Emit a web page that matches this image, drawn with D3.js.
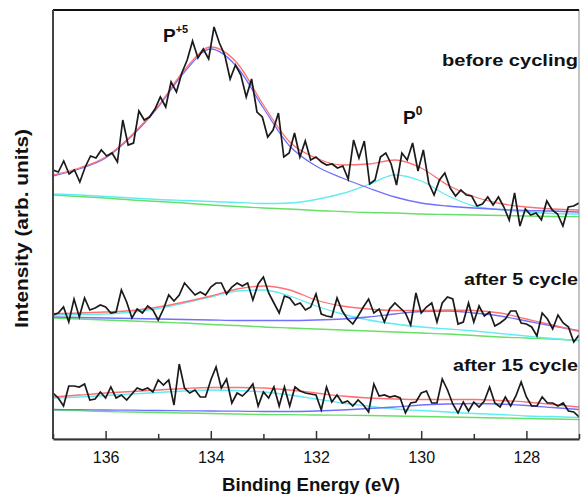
<!DOCTYPE html>
<html>
<head>
<meta charset="utf-8">
<script src="https://cdn.jsdelivr.net/npm/d3@7"></script>
<style>
  body { margin: 0; background: #fff; }
  text { font-family: "Liberation Sans", Arial, sans-serif; }
  .axisText { font-weight: bold; font-size: 18px; fill: #111; }
</style>
</head>
<body>
<div class="chart"></div>
<script>
var svgWidth = 581;
var svgHeight = 494;

var margin = { top: 10, right: 2, bottom: 55, left: 53 };

var width = svgWidth - margin.left - margin.right;
var height = svgHeight - margin.top - margin.bottom;

// x ticks (binding energy, eV)
var majorTicks = [136, 134, 132, 130, 128];
var minorTicks = [137, 135, 133, 131, 129, 127];

// raw spectra, 137 -> 127 eV (arb. units)
var beforeRaw = [269, 267, 278, 265, 269, 257, 272, 283, 281, 289, 283, 286, 277, 319, 294, 296, 328, 319, 322, 330,
  342, 332, 357, 347, 366, 379, 398, 381, 390, 380, 412, 396, 384, 360, 374, 364, 342, 360, 327, 322,
  302, 309, 326, 282, 286, 306, 282, 298, 279, 282, 277, 274, 275, 271, 273, 260, 299, 281, 298, 255,
  259, 282, 286, 275, 254, 286, 279, 296, 268, 289, 256, 244, 259, 266, 251, 243, 249, 244, 243, 233,
  235, 242, 234, 242, 232, 219, 246, 213, 230, 224, 226, 219, 238, 229, 225, 213, 232, 233, 236];

var after5Raw = [124, 126, 132, 117, 140, 122, 141, 129, 131, 134, 132, 126, 127, 149, 137, 121, 130, 126, 133, 129,
  119, 130, 144, 138, 144, 156, 150, 144, 147, 144, 152, 156, 156, 145, 152, 156, 153, 156, 139, 155,
  162, 146, 136, 126, 143, 141, 134, 136, 129, 132, 145, 125, 123, 122, 141, 128, 120, 115, 123, 132,
  140, 126, 130, 117, 130, 136, 131, 126, 114, 146, 126, 132, 136, 117, 136, 142, 140, 115, 117, 136,
  117, 133, 123, 127, 113, 116, 120, 128, 128, 116, 115, 112, 103, 126, 120, 110, 124, 116, 112, 97, 104];

var after15Raw = [46, 41, 33, 53, 53, 52, 55, 39, 40, 47, 41, 52, 41, 44, 39, 45, 51, 49, 51, 47,
  59, 54, 59, 34, 75, 51, 46, 49, 42, 42, 59, 72, 51, 60, 36, 46, 43, 48, 55, 33,
  47, 41, 52, 33, 52, 33, 52, 48, 46, 45, 44, 29, 52, 37, 44, 36, 38, 33, 39, 34,
  27, 55, 43, 44, 42, 43, 41, 26, 36, 37, 46, 48, 36, 36, 60, 49, 35, 26, 37, 28,
  37, 32, 38, 52, 36, 32, 42, 33, 43, 57, 42, 33, 33, 42, 36, 36, 33, 36, 28, 27, 22];

// fitted components, read every 0.5 eV
var fitEnergy = [137, 136.5, 136, 135.5, 135, 134.5, 134, 133.5, 133, 132.5, 132,
  131.5, 131, 130.5, 130, 129.5, 129, 128.5, 128, 127.5, 127];

var beforeEnvelope = [264, 271, 282, 304, 333, 369, 392, 376, 334, 297, 281, 274, 275, 279, 271, 254, 242.5, 235.5, 232, 230, 229];
var beforeP5 = [263, 270, 281, 303, 332, 367, 390, 372, 331, 293, 273, 261, 251, 242, 236, 233, 231, 229.5, 228.5, 228, 227];
var beforeP0 = [245, 244, 242.5, 241, 239.5, 238.5, 237.5, 236.5, 235.5, 236, 239.5, 245.5, 254.5, 264, 258, 243.5, 233, 229.5, 227, 225.5, 225];
var beforeBg = [244, 242.5, 241, 239, 237.5, 236, 234, 232.5, 231, 230, 228.5, 227.5, 226.5, 226, 225, 224.5, 224, 223.5, 223, 222.5, 222.3];

var after5Envelope = [125.5, 126, 127, 128.5, 132, 137, 143, 150, 153, 149, 139, 133, 130, 128.5, 128.5, 129, 128.5, 126, 120, 114, 107.5];
var after5P0 = [122, 121.5, 121, 120.5, 120, 119.5, 119, 118.5, 118.5, 118.5, 119, 120, 122, 125, 127.5, 128, 126, 123, 118, 113, 108.5];
var after5P5 = [124, 124.5, 125, 127, 130.5, 136, 142, 148, 149, 143, 133, 125, 119, 115, 112, 110, 108, 105.5, 103, 100.5, 98.5];
var after5Bg = [121, 120, 119, 118, 117, 116, 114.5, 113.5, 112, 111, 110, 109, 108, 107, 106, 105, 103.5, 102, 101, 100, 98.5];

var after15Envelope = [42, 44, 46, 47.5, 49, 50.5, 51.5, 51.5, 51, 49, 46, 43, 41, 40, 39.5, 39.5, 39.5, 38.5, 37, 34.5, 32];
var after15P5 = [41, 42, 43.5, 45, 46.5, 48, 49, 48.5, 47, 44, 40, 36, 33, 30, 28.5, 27, 25.5, 24.5, 23, 22.5, 21.5];
var after15P0 = [29.5, 29.3, 29, 28.8, 28.5, 28.2, 28, 27.8, 27.5, 27.5, 28, 29, 30.5, 32, 34, 35, 35.5, 35, 33.5, 31.5, 29.5];
var after15Bg = [29, 28.3, 27.5, 27, 26.5, 26, 25.5, 25, 24.5, 24.3, 24, 23.8, 23.5, 23, 22.5, 22, 21.5, 21, 20.5, 20, 19.5];

var colors = { envelope: "#ff7070", blueFit: "#7070ff", cyanFit: "#60ecf4", bg: "#66e066", raw: "#1a1a1a" };

var svg = d3.select(".chart")
  .append("svg")
  .attr("width", svgWidth)
  .attr("height", svgHeight)
  .append("g")
  .attr("transform", "translate(" + margin.left + "," + margin.top + ")");

var xLinearScale = d3.scaleLinear().domain([137, 127]).range([0, width]);
var yLinearScale = d3.scaleLinear().domain([0, height]).range([height, 0]);

svg.append("clipPath").attr("id", "plotClip")
  .append("rect").attr("width", width).attr("height", height);

var chart = svg.append("g").attr("clip-path", "url(#plotClip)");

function rawPoints(values) {
  var n = values.length;
  return values.map(function(v, i) { return [137 - 10 * i / (n - 1), v]; });
}
function fitPoints(values) {
  return values.map(function(v, i) { return [fitEnergy[i], v]; });
}

var smoothLine = d3.line()
  .x(function(d) { return xLinearScale(d[0]); })
  .y(function(d) { return yLinearScale(d[1]); })
  .curve(d3.curveMonotoneX);

var rawLine = d3.line()
  .x(function(d) { return xLinearScale(d[0]); })
  .y(function(d) { return yLinearScale(d[1]); });

var fits = [
  [beforeBg, colors.bg], [beforeP0, colors.cyanFit], [beforeP5, colors.blueFit], [beforeEnvelope, colors.envelope],
  [after5Bg, colors.bg], [after5P5, colors.cyanFit], [after5P0, colors.blueFit], [after5Envelope, colors.envelope],
  [after15Bg, colors.bg], [after15P5, colors.cyanFit], [after15P0, colors.blueFit], [after15Envelope, colors.envelope]
];

fits.forEach(function(f) {
  chart.append("path")
    .attr("d", smoothLine(fitPoints(f[0])))
    .attr("fill", "none")
    .attr("stroke", f[1])
    .attr("stroke-width", 1.3);
});

[beforeRaw, after5Raw, after15Raw].forEach(function(values) {
  chart.append("path")
    .attr("d", rawLine(rawPoints(values)))
    .attr("fill", "none")
    .attr("stroke", colors.raw)
    .attr("stroke-width", 1.7);
});

// frame
svg.append("rect")
  .attr("width", width)
  .attr("height", height)
  .attr("fill", "none")
  .attr("stroke", "#888")
  .attr("stroke-width", 1);
svg.append("line").attr("x1", 0).attr("x2", width).attr("y1", 0).attr("y2", 0)
  .attr("stroke", "#111").attr("stroke-width", 2);
svg.append("line").attr("x1", 0).attr("x2", 0).attr("y1", 0).attr("y2", height)
  .attr("stroke", "#444").attr("stroke-width", 2);

// bottom axis, ticks pointing inward
var bottomAxis = d3.axisBottom(xLinearScale)
  .tickValues(majorTicks)
  .tickSizeInner(-8)
  .tickSizeOuter(0)
  .tickPadding(13)
  .tickFormat(d3.format("d"));

var xAxis = svg.append("g")
  .attr("transform", "translate(0," + height + ")")
  .call(bottomAxis);
xAxis.select(".domain").attr("stroke", "#333").attr("stroke-width", 2);
xAxis.selectAll(".tick line").attr("stroke", "#333").attr("stroke-width", 1.5);
xAxis.selectAll(".tick text").attr("fill", "#111").style("font-size", "16px").attr("font-family", null);

svg.append("g")
  .attr("transform", "translate(0," + height + ")")
  .call(d3.axisBottom(xLinearScale).tickValues(minorTicks).tickSizeInner(-5).tickSizeOuter(0).tickFormat(""))
  .call(function(g) { g.select(".domain").remove(); })
  .selectAll(".tick line").attr("stroke", "#333").attr("stroke-width", 1.5);

// axis titles (the source text is drawn wide, so stretch to its measured length)
svg.append("text")
  .attr("class", "axisText")
  .attr("x", 222 - margin.left)
  .attr("y", height + 52)
  .attr("textLength", 178)
  .attr("lengthAdjust", "spacingAndGlyphs")
  .text("Binding Energy (eV)");

svg.append("text")
  .attr("class", "axisText")
  .attr("transform", "rotate(-90)")
  .attr("x", -(328 - margin.top))
  .attr("y", -25)
  .attr("textLength", 199)
  .attr("lengthAdjust", "spacingAndGlyphs")
  .text("Intensity (arb. units)");

// peak labels
var p5 = svg.append("text").attr("x", 110).attr("y", 31.5)
  .style("font-weight", "bold").style("font-size", "19px").attr("fill", "#111");
p5.append("tspan").text("P");
p5.append("tspan").attr("dy", -9).style("font-size", "11px").text("+5");

var p0 = svg.append("text").attr("x", 350).attr("y", 113.5)
  .style("font-weight", "bold").style("font-size", "19px").attr("fill", "#111");
p0.append("tspan").text("P");
p0.append("tspan").attr("dy", -9).style("font-size", "12px").text("0");

// spectrum labels: text, baseline, measured width
var labels = [["before cycling", 56, 136], ["after 5 cycle", 275, 114], ["after 15 cycle", 361, 125]];
labels.forEach(function(l) {
  svg.append("text")
    .attr("x", width - 1 - l[2])
    .attr("y", l[1])
    .attr("textLength", l[2])
    .attr("lengthAdjust", "spacingAndGlyphs")
    .style("font-weight", "bold")
    .style("font-size", "17px")
    .attr("fill", "#111")
    .text(l[0]);
});
</script>
</body>
</html>
